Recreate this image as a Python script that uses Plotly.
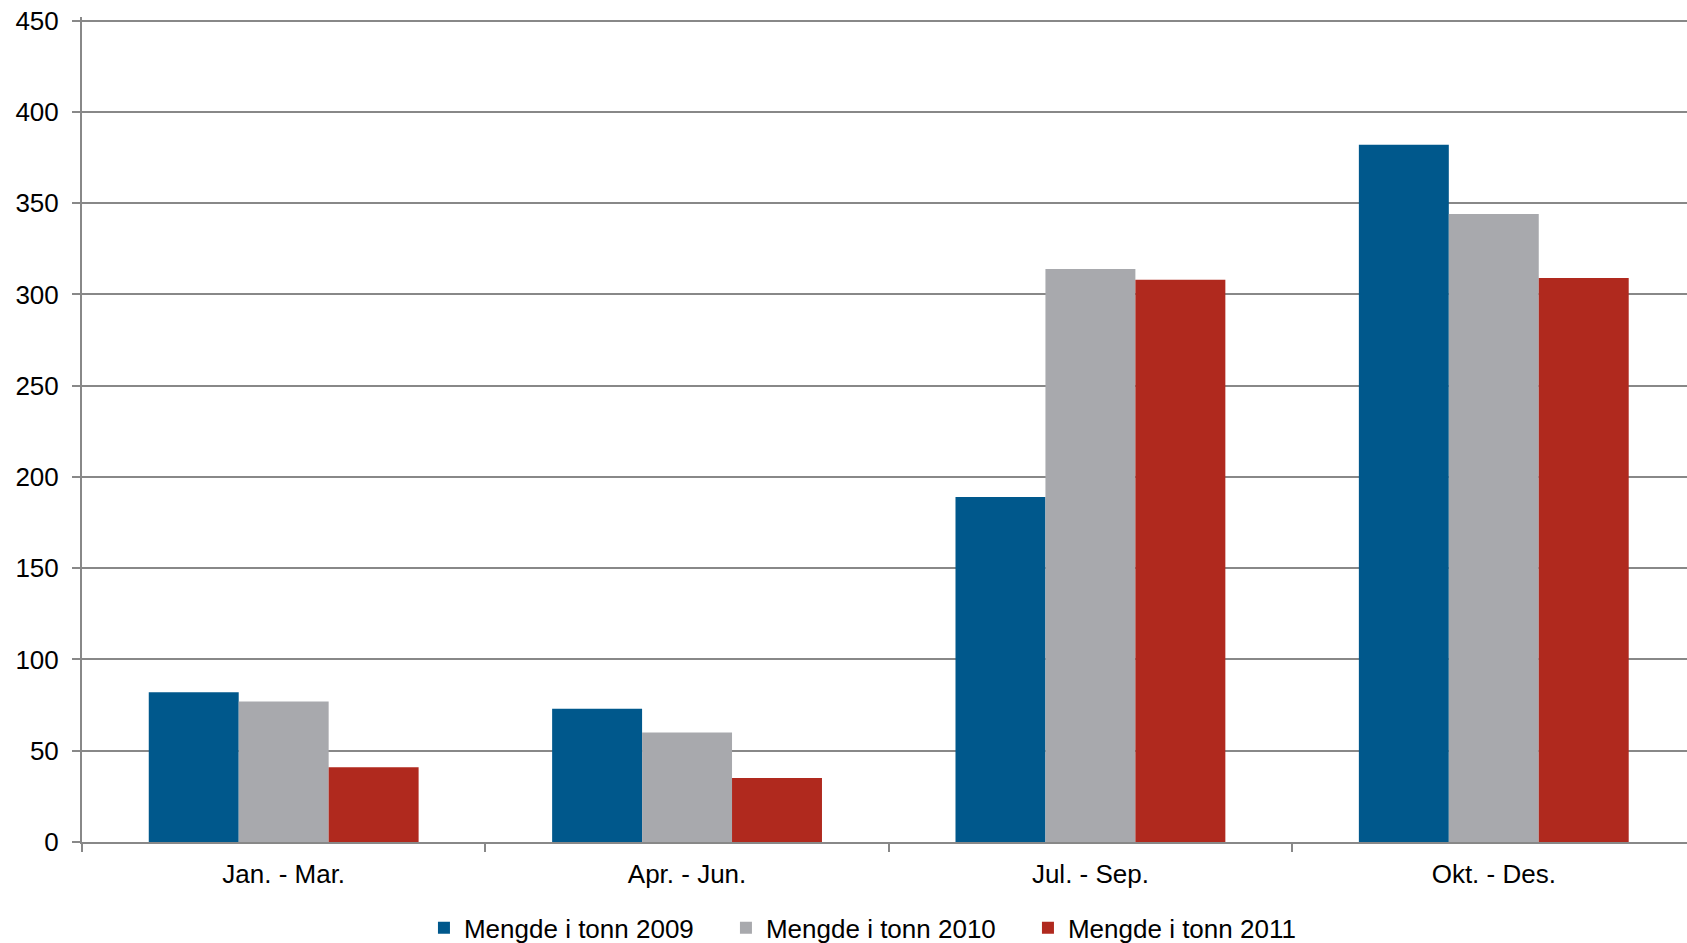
import plotly.graph_objects as go

categories = ["Jan. - Mar.", "Apr. - Jun.", "Jul. - Sep.", "Okt. - Des."]
series_names = ["Mengde i tonn 2009", "Mengde i tonn 2010", "Mengde i tonn 2011"]
values_2009 = [82, 73, 189, 382]
values_2010 = [77, 60, 314, 344]
values_2011 = [41, 35, 308, 309]
colors = ["#00588C", "#A8A9AD", "#B0291E"]
y_ticks = [0, 50, 100, 150, 200, 250, 300, 350, 400, 450]

fig = go.Figure()
for name, vals, col in zip(series_names, [values_2009, values_2010, values_2011], colors):
    fig.add_trace(go.Bar(x=categories, y=vals, name=name, marker=dict(color=col, line=dict(width=0))))

W, H = 1687, 943
L, R, T, B = 82, 0, 17, 101
fig.update_layout(
    width=W, height=H,
    margin=dict(l=L, r=R, t=T, b=B),
    paper_bgcolor="white", plot_bgcolor="white",
    barmode="group", bargap=0.331, bargroupgap=0,
    font=dict(family="Liberation Sans, Arial, sans-serif", size=26, color="black"),
    showlegend=True,
    legend=dict(orientation="h", x=0.4953, xanchor="center", yref="container", y=0.016, yanchor="middle",
                font=dict(size=26), entrywidth=257, entrywidthmode="pixels",
                bgcolor="rgba(0,0,0,0)"),
    xaxis=dict(range=[-0.5, 3.479], showline=True, linecolor="#888888", linewidth=2,
               ticks="outside", tickson="boundaries", ticklen=8, tickcolor="#888888", tickwidth=2,
               showgrid=False, tickfont=dict(size=26), ticklabelstandoff=8),
    yaxis=dict(range=[0, 452], tickvals=y_ticks, showline=True, linecolor="#888888", linewidth=2,
               ticks="outside", ticklen=8, tickcolor="#888888", tickwidth=2,
               showgrid=True, gridcolor="#888888", gridwidth=1.5, zeroline=False,
               tickfont=dict(size=26), ticklabelstandoff=8),
)
fig.write_html("out.html", config={"displayModeBar": False},
               post_script="document.body.style.margin='0';")
